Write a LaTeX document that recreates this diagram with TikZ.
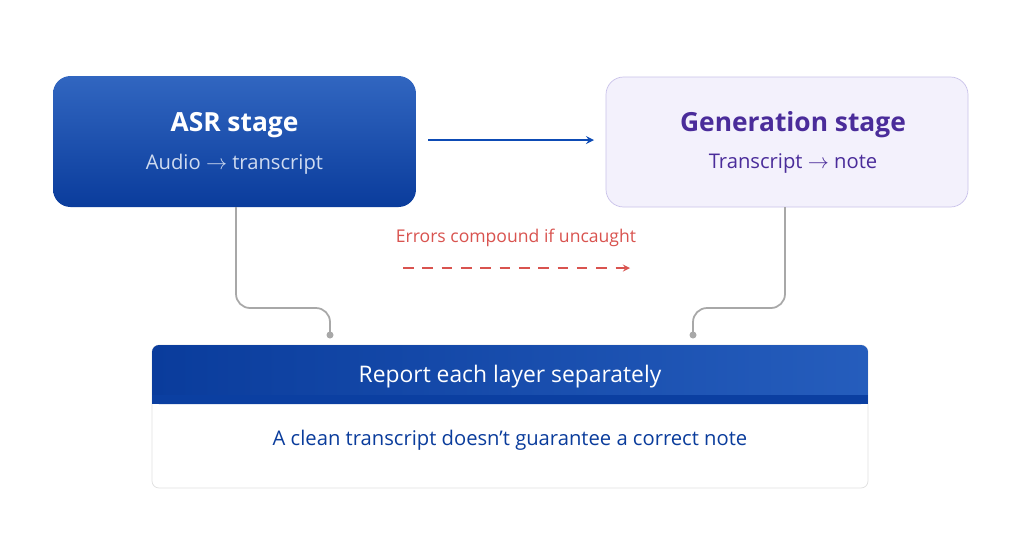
\documentclass[tikz,border=0pt]{standalone}
\usepackage{fontspec}
\setmainfont{Open Sans}
\usetikzlibrary{calc}
\definecolor{asr_blue}{HTML}{0D4BB5}
\definecolor{deep_blue}{HTML}{0A3C9C}
\definecolor{gen_fill}{HTML}{F3F1FC}
\definecolor{gen_line}{HTML}{C9C2EA}
\definecolor{gen_text}{HTML}{4A2C9A}
\definecolor{err_red}{HTML}{D9534F}
\definecolor{link_gray}{HTML}{A8A8A8}

\begin{document}
\begin{tikzpicture}[x=0.02cm,y=-0.02cm,>=stealth]

    % Cadre de l'image
    \useasboundingbox (0,0) rectangle (1024,542);
    \fill[white] (0,0) rectangle (1024,542);

    % Les deux étapes
    \shade[rounded corners=10pt,top color=asr_blue!85!white,bottom color=deep_blue] (53,76) rectangle (416,207);
    \node[white,font=\bfseries\fontsize{15}{18}\selectfont] (asr) at (234.5,125) {ASR stage};
    \node[white!80!asr_blue,font=\fontsize{11.5}{14}\selectfont] (asrsub) at (234.5,164) {Audio $\rightarrow$ transcript};
    \coordinate (asrbot) at (236,207);

    \draw[rounded corners=10pt,fill=gen_fill,draw=gen_line] (606,77) rectangle (968,207);
    \node[gen_text,font=\bfseries\fontsize{15}{18}\selectfont] (gen) at (793,125) {Generation stage};
    \node[gen_text,font=\fontsize{11.5}{14}\selectfont] (gensub) at (793,164) {Transcript $\rightarrow$ note};
    \coordinate (genbot) at (785,207);

    % Flèche entre les étapes
    \coordinate (arrA) at (428,140);
    \coordinate (arrB) at (594,140);
    \draw[->,asr_blue,line width=1pt] (arrA) -- (arrB);

    % Erreurs
    \node[err_red,font=\fontsize{10}{12}\selectfont] (err) at (516,238) {Errors compound if uncaught};
    \coordinate (errA) at (403,268);
    \coordinate (errB) at (630,268);
    \draw[->,err_red,line width=0.8pt,dash pattern=on 6pt off 5pt] (errA) -- (errB);

    % Boîte du bas
    \draw[fill=white,draw=black!12,rounded corners=4pt] (152,345) rectangle (868,488);
    \shade[left color=deep_blue,right color=asr_blue!90!white,rounded corners=4pt] (152,345) rectangle (868,404);
    \fill[deep_blue!80!asr_blue] (152,395) rectangle (868,404);
    \node[white,font=\fontsize{13}{16}\selectfont] (report) at (510,377) {Report each layer separately};
    \node[deep_blue,font=\fontsize{11.5}{14}\selectfont] (clean) at (510,440) {A clean transcript doesn’t guarantee a correct note};

    % Liaisons vers la boîte du bas
    \coordinate (dotL) at (330,335);
    \coordinate (dotR) at (693,335);
    \draw[link_gray,line width=1pt,rounded corners=8pt] (asrbot) -- (236,308) -- (330,308) -- (dotL);
    \draw[link_gray,line width=1pt,rounded corners=8pt] (genbot) -- (785,308) -- (693,308) -- (dotR);
    \fill[link_gray] (dotL) circle (3.5);
    \fill[link_gray] (dotR) circle (3.5);
\end{tikzpicture}
\end{document}
